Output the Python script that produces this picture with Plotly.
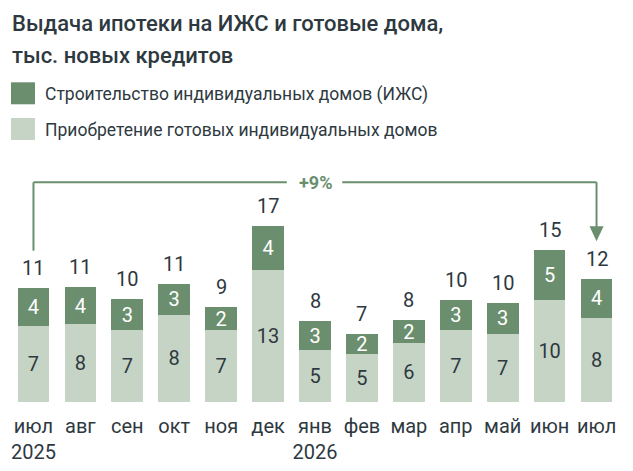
import plotly.graph_objects as go

# --- данные (тыс. новых кредитов) ---
months = ["июл", "авг", "сен", "окт", "ноя", "дек", "янв",
          "фев", "мар", "апр", "май", "июн", "июл"]
years = ["2025", "", "", "", "", "", "2026", "", "", "", "", "", ""]
izhs = [3.7, 3.6, 3.0, 3.0, 2.3, 4.3, 2.8, 2.0, 2.2, 2.9, 3.0, 4.9, 3.8]
ready = [7.3, 7.5, 6.9, 8.4, 6.9, 12.7, 5.0, 4.6, 5.7, 6.9, 6.6, 9.8, 8.1]
change_label = "+9%"

DARK = "#6b8f6e"
LIGHT = "#c6d4c6"
TEXT = "#2e393f"
FONT = "Roboto"

W, H = 633, 471
M_L, M_R, M_T, M_B = 10, 13, 174, 69
PW, PH = W - M_L - M_R, H - M_T - M_B


def px(x):
    return (x - M_L) / PW


def py(y):
    return (H - M_B - y) / PH


x = list(range(len(months)))
totals = [a + b for a, b in zip(izhs, ready)]
ticktext = [m + ("<br>" + y if y else "") for m, y in zip(months, years)]

fig = go.Figure()
fig.add_trace(go.Bar(
    x=x, y=ready, name="Приобретение готовых индивидуальных домов",
    marker=dict(color=LIGHT, line=dict(width=0)),
    texttemplate="%{y:.0f}", textposition="inside", insidetextanchor="middle",
    textangle=0, textfont=dict(size=20, color=TEXT, family=FONT), constraintext="none",
    hoverinfo="skip"
))
fig.add_trace(go.Bar(
    x=x, y=izhs, name="Строительство индивидуальных домов (ИЖС)",
    marker=dict(color=DARK, line=dict(width=0)),
    texttemplate="%{y:.0f}", textposition="inside", insidetextanchor="middle",
    textangle=0, textfont=dict(size=20, color="white", family=FONT), constraintext="none",
    hoverinfo="skip"
))

# подписи итогов над столбцами
for i, t in enumerate(totals):
    fig.add_annotation(x=i, y=t, text=f"{t:.0f}", showarrow=False,
                       yanchor="bottom", yshift=6,
                       font=dict(size=20, color=TEXT, family=FONT))

# скобка "+9%" от первого июля к последнему
line = dict(color=DARK, width=2)
y_br = max(totals) + 4.2
y0 = totals[0] + 3.6
y1 = totals[-1] + 3.6
last = len(months) - 1
mid = last / 2
fig.add_shape(type="line", x0=0, x1=0, y0=y0, y1=y_br, line=line)
fig.add_shape(type="line", x0=0, x1=mid - 0.6, y0=y_br, y1=y_br, line=line)
fig.add_shape(type="line", x0=mid + 0.58, x1=last, y0=y_br, y1=y_br, line=line)
fig.add_shape(type="line", x0=last, x1=last, y0=y_br, y1=y1 + 1.3, line=line)
fig.add_shape(type="path",
              path=f"M {last - 0.15} {y1 + 1.45} L {last + 0.15} {y1 + 1.45} L {last} {y1} Z",
              fillcolor=DARK, line=dict(width=0))
fig.add_annotation(x=mid, y=y_br, text=f"<b>{change_label}</b>", showarrow=False,
                   font=dict(size=18, color=DARK, family=FONT))

# заголовок
for txt, yc in [("Выдача ипотеки на ИЖС и готовые дома,", 23), ("тыс. новых кредитов", 55.5)]:
    fig.add_annotation(xref="paper", yref="paper", x=px(10), y=py(yc),
                       xanchor="left", yanchor="middle", showarrow=False, text=txt,
                       font=dict(size=22, color=TEXT, family=FONT, weight=500))

# легенда вручную
for (name, col, yc) in [(fig.data[1].name, DARK, 93.3), (fig.data[0].name, LIGHT, 129)]:
    fig.add_shape(type="rect", xref="paper", yref="paper",
                  x0=px(11), x1=px(35), y0=py(yc - 11), y1=py(yc + 11),
                  fillcolor=col, line=dict(width=0))
    fig.add_annotation(xref="paper", yref="paper", x=px(43), y=py(yc + 1),
                       xanchor="left", yanchor="middle", showarrow=False,
                       text=name, font=dict(size=17.5, color=TEXT, family=FONT))

fig.update_layout(
    width=W, height=H,
    margin=dict(l=M_L, r=M_R, t=M_T, b=M_B, autoexpand=False),
    barmode="stack", bargap=0.325,
    showlegend=False,
    paper_bgcolor="white", plot_bgcolor="white",
    font=dict(family=FONT, color=TEXT),
    xaxis=dict(tickmode="array", tickvals=x, ticktext=ticktext, automargin=False,
               range=[-0.5, len(months) - 0.5], showgrid=False, zeroline=False,
               showline=False, ticks="", ticklabelstandoff=10,
               tickfont=dict(size=20, color=TEXT)),
    yaxis=dict(range=[0, 22], visible=False, automargin=False),
)

# убрать отступ body, чтобы рисунок занимал окно целиком
fig.write_html("out.html", config={"displayModeBar": False},
               post_script="document.body.style.margin='0';")
